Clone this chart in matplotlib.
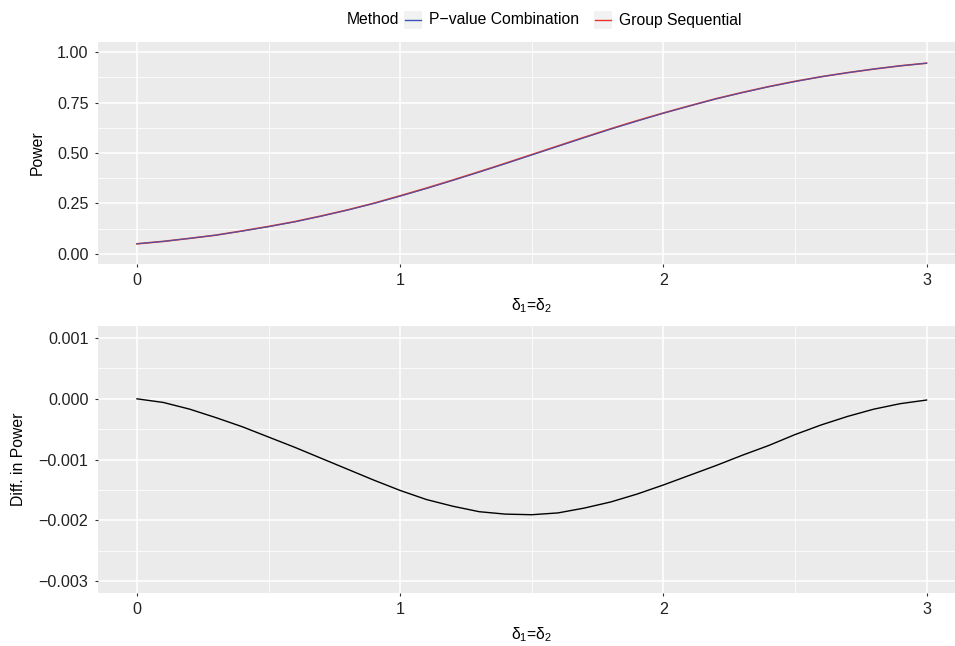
import matplotlib

matplotlib.use("Agg")
import matplotlib.pyplot as plt
from matplotlib.lines import Line2D
from matplotlib.patches import Rectangle

plt.rcParams["font.family"] = ["Liberation Sans", "DejaVu Sans"]
plt.rcParams["mathtext.fontset"] = "custom"
plt.rcParams["mathtext.rm"] = "Liberation Sans"
plt.rcParams["mathtext.it"] = "Liberation Sans"

# --------------------------------------------------------------------------- #
#  Data
# --------------------------------------------------------------------------- #
delta = [0.0, 0.1, 0.2, 0.3, 0.4, 0.5, 0.6, 0.7, 0.8, 0.9, 1.0,
         1.1, 1.2, 1.3, 1.4, 1.5, 1.6, 1.7, 1.8, 1.9, 2.0,
         2.1, 2.2, 2.3, 2.4, 2.5, 2.6, 2.7, 2.8, 2.9, 3.0]

power_pvalue = [0.050, 0.062, 0.077, 0.093, 0.113, 0.135, 0.159, 0.187, 0.217,
                0.250, 0.286, 0.324, 0.364, 0.405, 0.447, 0.490, 0.533, 0.576,
                0.618, 0.658, 0.697, 0.733, 0.768, 0.799, 0.828, 0.854, 0.878,
                0.898, 0.916, 0.932, 0.945]

power_groupseq = [0.050, 0.062, 0.077, 0.093, 0.114, 0.136, 0.160, 0.188, 0.218,
                  0.251, 0.288, 0.326, 0.366, 0.407, 0.449, 0.492, 0.535, 0.578,
                  0.620, 0.660, 0.698, 0.734, 0.769, 0.800, 0.829, 0.855, 0.878,
                  0.898, 0.916, 0.932, 0.945]

power_diff = [0.0, -0.00006, -0.00017, -0.00031, -0.00046, -0.00063, -0.00080,
              -0.00098, -0.00116, -0.00134, -0.00151, -0.00166, -0.00177,
              -0.00186, -0.00190, -0.00191, -0.00188, -0.00180, -0.00170,
              -0.00157, -0.00142, -0.00126, -0.00110, -0.00093, -0.00077,
              -0.00059, -0.00043, -0.00029, -0.00017, -0.00008, -0.00002]

x_ticks = [0, 1, 2, 3]
power_ticks = [0.00, 0.25, 0.50, 0.75, 1.00]
power_labels = ["0.00", "0.25", "0.50", "0.75", "1.00"]
diff_ticks = [-0.003, -0.002, -0.001, 0.000, 0.001]
diff_labels = ["\u22120.003", "\u22120.002", "\u22120.001", "0.000", "0.001"]

methods = ["P\u2212value Combination", "Group Sequential"]
method_colors = ["#3a55b4", "#e8332a"]

PANEL = "#ebebeb"
TXT = "#222222"
FS = 11.6
LFS = 11.3
XLAB = r"δ$_{1}$=δ$_{2}$"


def _gg(ax, xminor, yminor):
    ax.set_facecolor(PANEL)
    for s in ax.spines.values():
        s.set_visible(False)
    ax.set_xticks(xminor, minor=True)
    ax.set_yticks(yminor, minor=True)
    ax.grid(which="major", color="white", linewidth=1.1)
    ax.grid(which="minor", color="white", linewidth=0.55)
    ax.set_axisbelow(True)
    ax.tick_params(which="major", length=2.5, width=0.8, color="#333333",
                   labelsize=FS, labelcolor=TXT, pad=4)
    ax.tick_params(which="minor", length=0)


fig = plt.figure(figsize=(9.55, 6.46), dpi=100)
W, H = 955.0, 646.0

# top panel
ax1 = fig.add_axes([97.5 / W, 1 - 264 / H, (966 - 97.5) / W, (264 - 42) / H])
ax1.plot(delta, power_groupseq, color=method_colors[1], linewidth=1.2, zorder=3)
ax1.plot(delta, power_pvalue, color=method_colors[0], linewidth=0.8, zorder=4,
         alpha=0.9)
ax1.set_xlim(-0.15, 3.15)
ax1.set_ylim(-0.05, 1.05)
ax1.set_xticks(x_ticks)
ax1.set_yticks(power_ticks)
ax1.set_yticklabels(power_labels)
_gg(ax1, [0.5, 1.5, 2.5], [0.125, 0.375, 0.625, 0.875])
ax1.set_ylabel("Power", fontsize=LFS, color="black", labelpad=9)
ax1.set_xlabel(XLAB, fontsize=LFS, color="black", labelpad=6)

# bottom panel
ax2 = fig.add_axes([97.5 / W, 1 - 593 / H, (966 - 97.5) / W, (593 - 326) / H])
ax2.plot(delta, power_diff, color="black", linewidth=1.0)
ax2.set_xlim(-0.15, 3.15)
ax2.set_ylim(-0.0032, 0.0012)
ax2.set_xticks(x_ticks)
ax2.set_yticks(diff_ticks)
ax2.set_yticklabels(diff_labels)
_gg(ax2, [0.5, 1.5, 2.5], [-0.0025, -0.0015, -0.0005, 0.0005])
ax2.set_ylabel("Diff. in Power", fontsize=LFS, color="black", labelpad=9)
ax2.set_xlabel(XLAB, fontsize=LFS, color="black", labelpad=6)

# legend (ggplot style, on top)
ly = 1 - 20 / H
fig.text(347 / W, ly, "Method", fontsize=LFS, ha="left", va="center")
key_x = [404, 594]
for kx, lab, col in zip(key_x, methods, method_colors):
    fig.add_artist(Rectangle((kx / W, ly - 9 / H), 18 / W, 18 / H,
                             transform=fig.transFigure, facecolor="#f2f2f2",
                             edgecolor="none"))
    fig.add_artist(Line2D([(kx + 1) / W, (kx + 17) / W], [ly, ly],
                          transform=fig.transFigure, color=col, linewidth=1.0))
    fig.text((kx + 25) / W, ly, lab, fontsize=LFS, ha="left", va="center")

fig.savefig("out.png", dpi=100, facecolor="white")
